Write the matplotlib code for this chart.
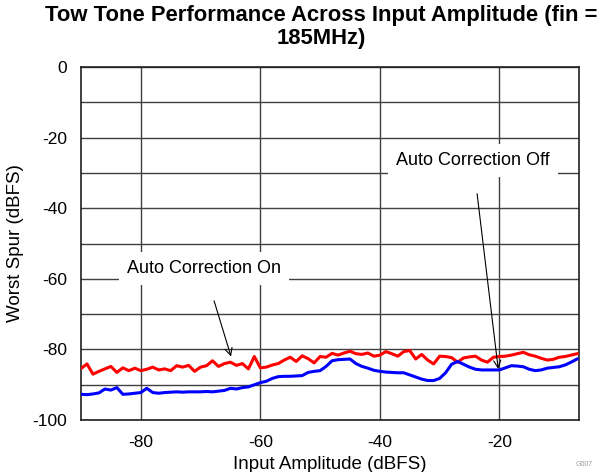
import matplotlib
matplotlib.use("Agg")
import matplotlib.pyplot as plt
import numpy as np

plt.rcParams['font.family'] = ['Liberation Sans', 'DejaVu Sans']
plt.rcParams['axes.unicode_minus'] = False

# input amplitude (dBFS)
amp = np.arange(-90, -6, 1)

# red trace
spur_red = [-85.4, -84.1, -87.0, -86.2, -85.5, -84.8, -86.5, -85.2, -86.0, -85.3,
            -86.0, -85.6, -85.0, -85.8, -85.5, -86.0, -84.6, -85.0, -84.5, -86.2,
            -85.0, -84.6, -83.2, -84.8, -84.0, -83.6, -84.5, -84.0, -85.5, -82.0,
            -85.2, -85.0, -84.4, -84.0, -83.0, -82.2, -83.4, -81.8, -82.6, -83.8,
            -82.0, -82.2, -81.1, -81.6, -81.0, -80.5, -81.2, -81.4, -81.0, -81.9,
            -81.6, -80.6, -81.2, -81.9, -80.6, -80.3, -82.7, -81.4, -83.0, -84.1,
            -81.9, -82.0, -82.3, -83.6, -82.4, -82.1, -81.9, -83.0, -83.6, -82.2,
            -82.0, -81.9, -81.6, -81.2, -80.8, -81.5, -81.9, -82.5, -83.0, -82.8,
            -82.2, -82.0, -81.6, -81.2]

# blue trace
spur_blue = [-92.7, -92.8, -92.6, -92.3, -91.2, -91.5, -90.8, -92.7, -92.6, -92.4,
             -92.2, -91.0, -92.2, -92.4, -92.2, -92.1, -92.0, -92.1, -92.0, -92.0,
             -92.0, -91.9, -92.0, -91.8, -91.6, -91.0, -91.2, -90.8, -90.6, -90.0,
             -89.4, -89.0, -88.2, -87.7, -87.6, -87.6, -87.5, -87.4, -86.5, -86.2,
             -86.0, -84.8, -83.2, -82.9, -82.8, -82.7, -84.0, -84.8, -85.3, -85.9,
             -86.2, -86.4, -86.5, -86.6, -86.6, -87.2, -87.8, -88.4, -88.8, -88.8,
             -88.2, -86.6, -84.2, -83.4, -84.2, -85.0, -85.6, -85.8, -85.8, -85.8,
             -85.8, -85.2, -84.6, -84.7, -84.9, -85.6, -86.0, -85.8, -85.3, -85.1,
             -84.9, -84.4, -83.6, -82.7]

fig = plt.figure(figsize=(6.02, 4.72), dpi=100)
ax = fig.add_axes([0.1346, 0.110, 0.827, 0.748])

ax.plot(amp, spur_red, color='#ff0000', lw=2.2, zorder=3)
ax.plot(amp, spur_blue, color='#0000ff', lw=2.2, zorder=3)

ax.set_xlim(-90, -6.7)
ax.set_ylim(-100, 0)
ax.set_xticks([-80, -60, -40, -20])
ax.set_yticks([0, -20, -40, -60, -80, -100])
ax.set_yticks(np.arange(-90, 0, 20), minor=True)
ax.grid(which='both', color='#404040', lw=1.0, zorder=1)
ax.tick_params(which='both', length=0, labelsize=12.5)
ax.tick_params(axis='x', pad=11)
ax.tick_params(axis='y', pad=10)
for s in ax.spines.values():
    s.set_linewidth(1.2)
    s.set_color('#202020')

ax.set_xlabel('Input Amplitude (dBFS)', fontsize=13.5, labelpad=4)
ax.set_ylabel('Worst Spur (dBFS)', fontsize=13.5, labelpad=6)
fig.suptitle('Tow Tone Performance Across Input Amplitude (fin =\n185MHz)',
             fontsize=15.8, fontweight='bold', x=0.533, y=0.99, linespacing=1.15)

box = dict(boxstyle='square,pad=0.45', fc='white', ec='none')
arrow = dict(arrowstyle='->', color='black', lw=0.8)
ax.annotate('Auto Correction On', xy=(-64.9, -82.0), xytext=(-69.4, -57.0),
            ha='center', va='center', fontsize=13, bbox=box,
            arrowprops=dict(arrow, shrinkA=12, shrinkB=0), zorder=4)
ax.annotate('Auto Correction Off', xy=(-20.2, -85.5), xytext=(-24.4, -26.5),
            ha='center', va='center', fontsize=13, bbox=box,
            arrowprops=dict(arrow, shrinkA=12, shrinkB=0), zorder=4)

fig.text(0.985, 0.012, 'G007', fontsize=5, color='#999999', ha='right')

fig.savefig('out.png', dpi=100)
